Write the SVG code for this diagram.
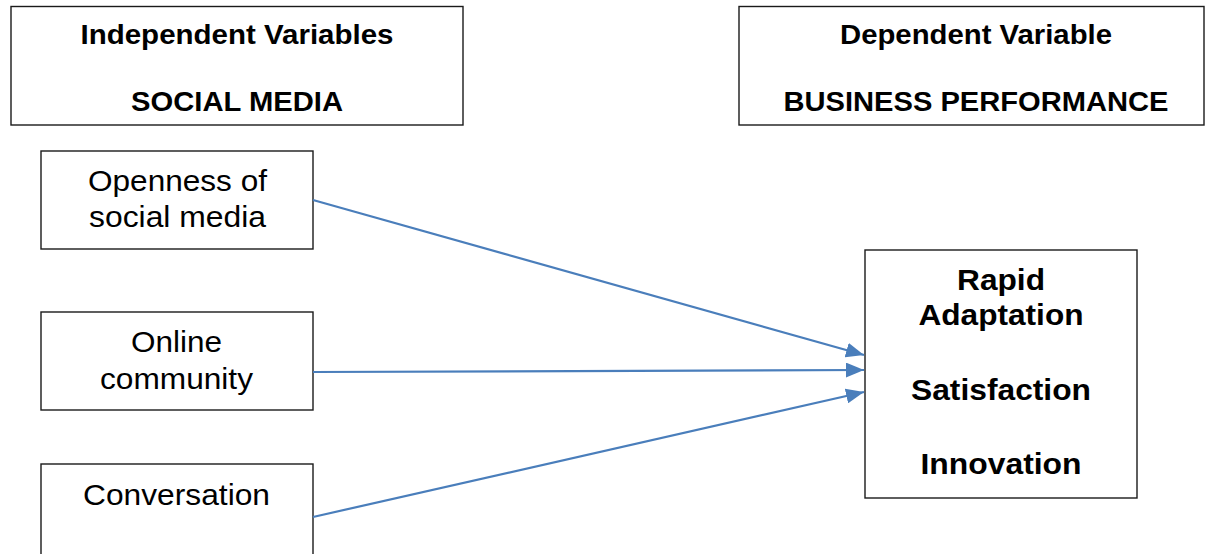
<svg xmlns="http://www.w3.org/2000/svg" width="1205" height="554" viewBox="0 0 1205 554">
  <style>
    .box { fill: #ffffff; stroke: #1a1a1a; stroke-width: 1.4; }
    .hdr { font-family: "Liberation Sans", Arial, sans-serif; font-weight: bold; font-size: 27.5px; fill: #000000; text-anchor: middle; }
    .txt { font-family: "Liberation Sans", Arial, sans-serif; font-size: 30px; fill: #000000; text-anchor: middle; }
    .btxt { font-family: "Liberation Sans", Arial, sans-serif; font-weight: bold; font-size: 30px; fill: #000000; text-anchor: middle; }
    .conn { stroke: #4A7EBB; stroke-width: 2.2; fill: none; marker-end: url(#arrow); }
  </style>
  <defs>
    <marker id="arrow" markerUnits="userSpaceOnUse" markerWidth="18" markerHeight="15" refX="18" refY="7.5" orient="auto">
      <path d="M0,0 L18,7.5 L0,15 z" fill="#4A7EBB"/>
    </marker>
  </defs>
  <rect width="1205" height="554" fill="#ffffff"/>

  <g id="independent-header">
    <rect class="box" x="11" y="6.5" width="452" height="118.5"/>
    <text class="hdr" x="237" y="44" textLength="313" lengthAdjust="spacingAndGlyphs">Independent Variables</text>
    <text class="hdr" x="237" y="111" textLength="212" lengthAdjust="spacingAndGlyphs">SOCIAL MEDIA</text>
  </g>

  <g id="dependent-header">
    <rect class="box" x="739" y="6.5" width="465" height="118.5"/>
    <text class="hdr" x="976" y="44" textLength="272" lengthAdjust="spacingAndGlyphs">Dependent Variable</text>
    <text class="hdr" x="976" y="111" textLength="385" lengthAdjust="spacingAndGlyphs">BUSINESS PERFORMANCE</text>
  </g>

  <g id="openness">
    <rect class="box" x="41" y="151" width="272" height="98"/>
    <text class="txt" x="177.5" y="191" textLength="179" lengthAdjust="spacingAndGlyphs">Openness of</text>
    <text class="txt" x="177.5" y="227" textLength="177" lengthAdjust="spacingAndGlyphs">social media</text>
  </g>

  <g id="online-community">
    <rect class="box" x="41" y="312" width="272" height="98"/>
    <text class="txt" x="176.5" y="352" textLength="91" lengthAdjust="spacingAndGlyphs">Online</text>
    <text class="txt" x="176.5" y="389" textLength="153" lengthAdjust="spacingAndGlyphs">community</text>
  </g>

  <g id="conversation">
    <rect class="box" x="41" y="464" width="272" height="100"/>
    <text class="txt" x="176.5" y="505" textLength="187" lengthAdjust="spacingAndGlyphs">Conversation</text>
  </g>

  <g id="business-performance">
    <rect class="box" x="865" y="250" width="272" height="248"/>
    <text class="btxt" x="1001" y="290" textLength="88" lengthAdjust="spacingAndGlyphs">Rapid</text>
    <text class="btxt" x="1001" y="325" textLength="165" lengthAdjust="spacingAndGlyphs">Adaptation</text>
    <text class="btxt" x="1001" y="400" textLength="180" lengthAdjust="spacingAndGlyphs">Satisfaction</text>
    <text class="btxt" x="1001" y="474" textLength="161" lengthAdjust="spacingAndGlyphs">Innovation</text>
  </g>

  <g id="connectors">
    <line class="conn" x1="313" y1="200" x2="864" y2="355"/>
    <line class="conn" x1="313" y1="372" x2="864" y2="370"/>
    <line class="conn" x1="313" y1="517" x2="864" y2="392"/>
  </g>
</svg>
